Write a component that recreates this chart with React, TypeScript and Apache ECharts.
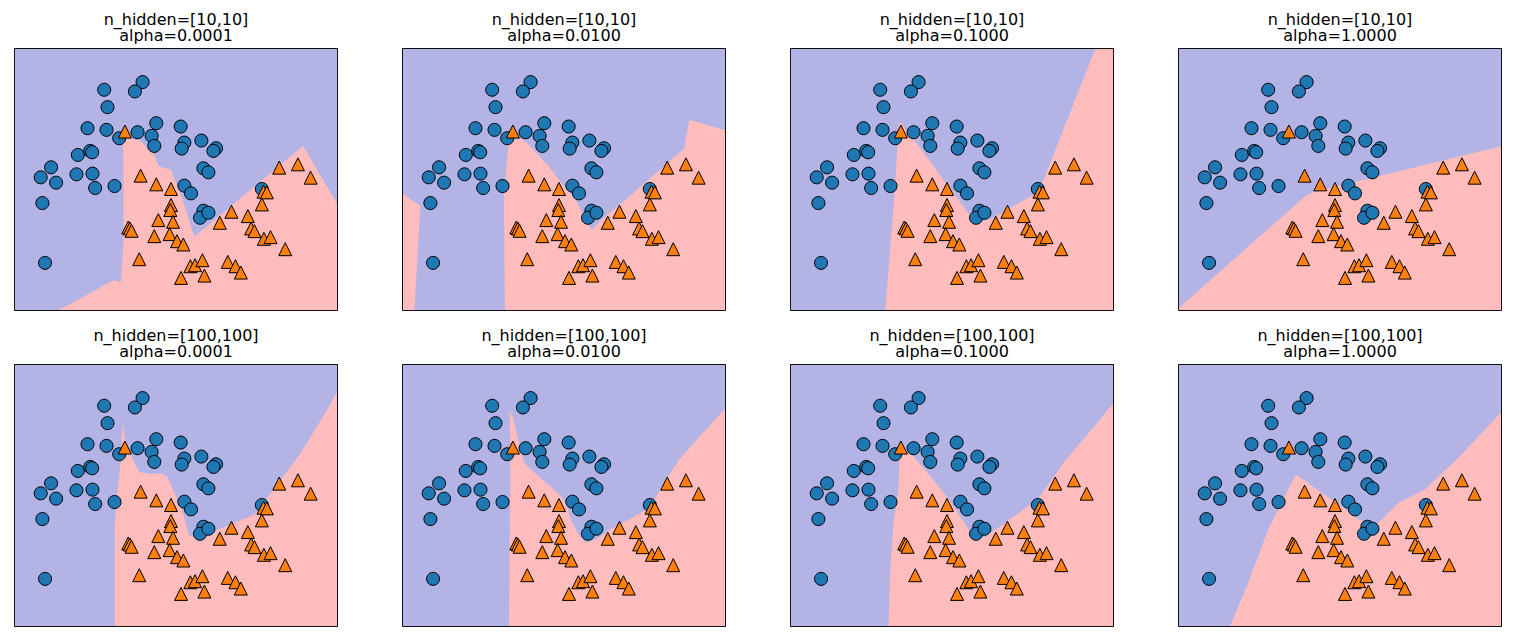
import React, { useEffect, useRef } from "react";
import * as echarts from "echarts";

// ---- data (feature space) ----
const XMIN = -1.6;
const XMAX = 2.28;
const YMIN = -1.1;
const YMAX = 2.048;

const class0X = [-0.52, -0.06, -0.152, -0.48, -0.72, -0.492, -0.34, -0.12, 0.104, 0.048, 0.08, 0.396, 0.44, 0.408, 0.644, 0.82, 0.788, -0.836, -0.688, -0.664, -1.156, -1.28, -1.096, -0.852, -0.66, -0.628, -0.396, -1.26, 0.668, 0.728, 0.44, 0.52, 0.668, 0.628, 0.728, 1.368, -1.228];
const class0Y = [1.548, 1.64, 1.528, 1.34, 1.088, 1.068, 0.968, 1.04, 1.148, 0.996, 0.876, 1.108, 0.916, 0.844, 0.94, 0.848, 0.816, 0.768, 0.816, 0.8, 0.62, 0.5, 0.436, 0.536, 0.544, 0.372, 0.396, 0.192, 0.608, 0.56, 0.4, 0.308, 0.1, 0.016, 0.076, 0.36, -0.524];

const class1X = [-0.272, -0.084, 0.104, 0.28, 0.28, 0.272, 0.128, 0.304, -0.232, -0.212, -0.192, 0.08, 0.264, 0.352, 0.428, -0.1, 0.512, 0.568, 0.656, 0.4, 0.68, 0.96, 1.052, 1.116, 0.864, 1.004, 1.2, 1.24, 1.28, 1.392, 1.472, 1.648, 1.368, 1.388, 1.428, 1.576, 1.8, 1.952];
const class1Y = [1.048, 0.52, 0.416, 0.36, 0.168, 0.108, -0.012, -0.032, -0.1, -0.112, -0.14, -0.204, -0.18, -0.264, -0.304, -0.48, -0.564, -0.552, -0.492, -0.704, -0.676, -0.512, -0.564, -0.64, -0.044, 0.088, 0.036, -0.112, -0.144, -0.236, -0.216, -0.36, 0.176, 0.328, 0.32, 0.616, 0.656, 0.496];

const hiddenLabels = ["[10,10]", "[100,100]"];
const alphaLabels = ["0.0001", "0.0100", "0.1000", "1.0000"];

// class-1 (pink) decision regions per model
const region_10_a0001 = [[[-1.08, -1.1], [-0.408, -0.732], [-0.32, -0.752], [-0.288, -0.252], [-0.292, 0.968], [-0.1, 0.948], [-0.02, 0.868], [0.08, 0.768], [0.128, 0.636], [0.28, 0.588], [0.42, 0.228], [0.56, -0.212], [1.86, 0.876], [2.28, 0.168], [2.28, -1.1]]];
const region_10_a0100 = [
  [[-0.368, -1.1], [-0.38, 0.268], [-0.328, 0.868], [-0.28, 0.968], [-0.14, 0.948], [-0.06, 0.868], [0.16, 0.628], [0.28, 0.468], [0.48, 0.228], [0.672, -0.132], [0.8, 0.008], [1.12, 0.268], [1.78, 0.848], [1.84, 1.188], [2.28, 1.06], [2.28, -1.1]],
  [[-1.6, 0.308], [-1.38, 0.156], [-1.452, -1.1], [-1.6, -1.1]],
];
const region_10_a1000 = [[[-0.46, -1.1], [-0.36, 0.148], [-0.308, 0.948], [-0.288, 1.168], [-0.14, 0.98], [0.54, 0.06], [0.68, -0.032], [0.82, 0.008], [0.96, 0.088], [1.38, 0.328], [2.06, 2.048], [2.28, 2.048], [2.28, -1.1]]];
const region_10_a10000 = [[[-1.6, -1.072], [-0.06, 0.288], [0.04, 0.328], [2.28, 0.876], [2.28, -1.1], [-1.6, -1.1]]];
const region_100_a0001 = [[[-0.392, -1.1], [-0.392, 0.148], [-0.36, 0.548], [-0.32, 0.908], [-0.3, 1.348], [-0.272, 1.148], [-0.18, 0.908], [-0.1, 0.756], [0.04, 0.728], [0.16, 0.74], [0.24, 0.688], [0.32, 0.508], [0.42, 0.268], [0.5, -0.012], [0.6, -0.032], [0.8, 0.048], [1.04, 0.148], [1.28, 0.248], [1.48, 0.508], [1.6, 0.668], [1.84, 0.988], [2.2, 1.588], [2.28, 1.74], [2.28, -1.1]]];
const region_100_a0100 = [[[-0.32, -1.1], [-0.312, -0.212], [-0.3, 0.948], [-0.312, 1.488], [-0.272, 1.408], [-0.2, 1.108], [-0.14, 0.868], [-0.06, 0.788], [0.08, 0.668], [0.28, 0.488], [0.36, 0.388], [0.42, 0.188], [0.5, 0.028], [0.592, -0.092], [0.72, -0.052], [0.92, 0.088], [1.12, 0.188], [1.36, 0.328], [1.52, 0.588], [1.72, 0.908], [2.28, 1.528], [2.28, -1.1]]];
const region_100_a1000 = [[[-0.42, -1.1], [-0.4, -0.412], [-0.36, 0.148], [-0.3, 0.548], [-0.288, 0.948], [-0.248, 1.06], [-0.16, 0.988], [0.08, 0.708], [0.3, 0.428], [0.54, 0.068], [0.72, -0.032], [0.92, 0.108], [1.2, 0.308], [1.38, 0.448], [1.68, 0.868], [2.28, 1.588], [2.28, -1.1]]];
const region_100_a10000 = [[[-0.98, -1.1], [-0.76, -0.572], [-0.52, 0.068], [-0.32, 0.468], [-0.192, 0.716], [-0.16, 0.708], [0.12, 0.508], [0.4, 0.308], [0.56, 0.188], [0.78, 0.128], [1.04, 0.388], [1.36, 0.548], [1.76, 0.928], [2.28, 1.48], [2.28, -1.1]]];

const regions = [
  [region_10_a0001, region_10_a0100, region_10_a1000, region_10_a10000],
  [region_100_a0001, region_100_a0100, region_100_a1000, region_100_a10000],
];

// ---- layout / style ----
const COL_LEFT = [14, 402, 790, 1178];
const ROW_TOP = [48, 364];
const GW = 324;
const GH = 263;
const BLUE = "#b3b3e5";
const PINK = "#ffbcbc";
const FONT = "DejaVu Sans";

export default function App() {
  const ref = useRef<HTMLDivElement>(null);
  useEffect(() => {
    if (!ref.current) return;
    const chart = echarts.init(ref.current, null, { renderer: "svg" });
    const grids: any[] = [];
    const xAxes: any[] = [];
    const yAxes: any[] = [];
    const series: any[] = [];
    const titles: any[] = [];
    const frames: any[] = [];
    const pts0 = class0X.map((x, i) => [x, class0Y[i]]);
    const pts1 = class1X.map((x, i) => [x, class1Y[i]]);
    let idx = 0;
    for (let r = 0; r < 2; r++) {
      for (let c = 0; c < 4; c++) {
        const left = COL_LEFT[c];
        const top = ROW_TOP[r];
        grids.push({ left, top, width: GW, height: GH, show: true, backgroundColor: BLUE, borderWidth: 0 });
        xAxes.push({ gridIndex: idx, type: "value", min: XMIN, max: XMAX, show: false });
        yAxes.push({ gridIndex: idx, type: "value", min: YMIN, max: YMAX, show: false });
        const polys = regions[r][c];
        series.push({
          type: "custom",
          xAxisIndex: idx,
          yAxisIndex: idx,
          clip: true,
          silent: true,
          z: 1,
          data: [[XMIN, YMIN]],
          renderItem: (_params: any, api: any) => ({
            type: "group",
            children: polys.map((poly: number[][]) => ({
              type: "polygon",
              shape: { points: poly.map((p) => api.coord(p)) },
              style: { fill: PINK, stroke: null },
            })),
          }),
        });
        series.push({
          type: "scatter",
          xAxisIndex: idx,
          yAxisIndex: idx,
          z: 3,
          symbol: "circle",
          symbolSize: 13,
          data: pts0,
          itemStyle: { color: "#1f77b4", borderColor: "#000", borderWidth: 1, opacity: 1 },
        });
        series.push({
          type: "scatter",
          xAxisIndex: idx,
          yAxisIndex: idx,
          z: 4,
          symbol: "triangle",
          symbolSize: [13, 13],
          data: pts1,
          itemStyle: { color: "#ff7f0e", borderColor: "#000", borderWidth: 1, opacity: 1 },
        });
        titles.push({
          text: `n_hidden=${hiddenLabels[r]}\nalpha=${alphaLabels[c]}`,
          left: left + GW / 2,
          top: top - 37,
          textAlign: "center",
          padding: 0,
          textStyle: { fontFamily: FONT, fontSize: 16, fontWeight: "normal", color: "#000", lineHeight: 16 },
        });
        frames.push({
          type: "rect",
          z: 100,
          silent: true,
          shape: { x: left + 0.5, y: top + 0.5, width: GW - 1, height: GH - 1 },
          style: { fill: "none", stroke: "#111", lineWidth: 1 },
        });
        idx++;
      }
    }
    chart.setOption({
      animation: false,
      backgroundColor: "#fff",
      title: titles,
      grid: grids,
      xAxis: xAxes,
      yAxis: yAxes,
      series,
      graphic: frames,
    });
    return () => chart.dispose();
  }, []);
  return <div ref={ref} style={{ position: "absolute", left: 0, top: 0, width: 1516, height: 641 }} />;
}
